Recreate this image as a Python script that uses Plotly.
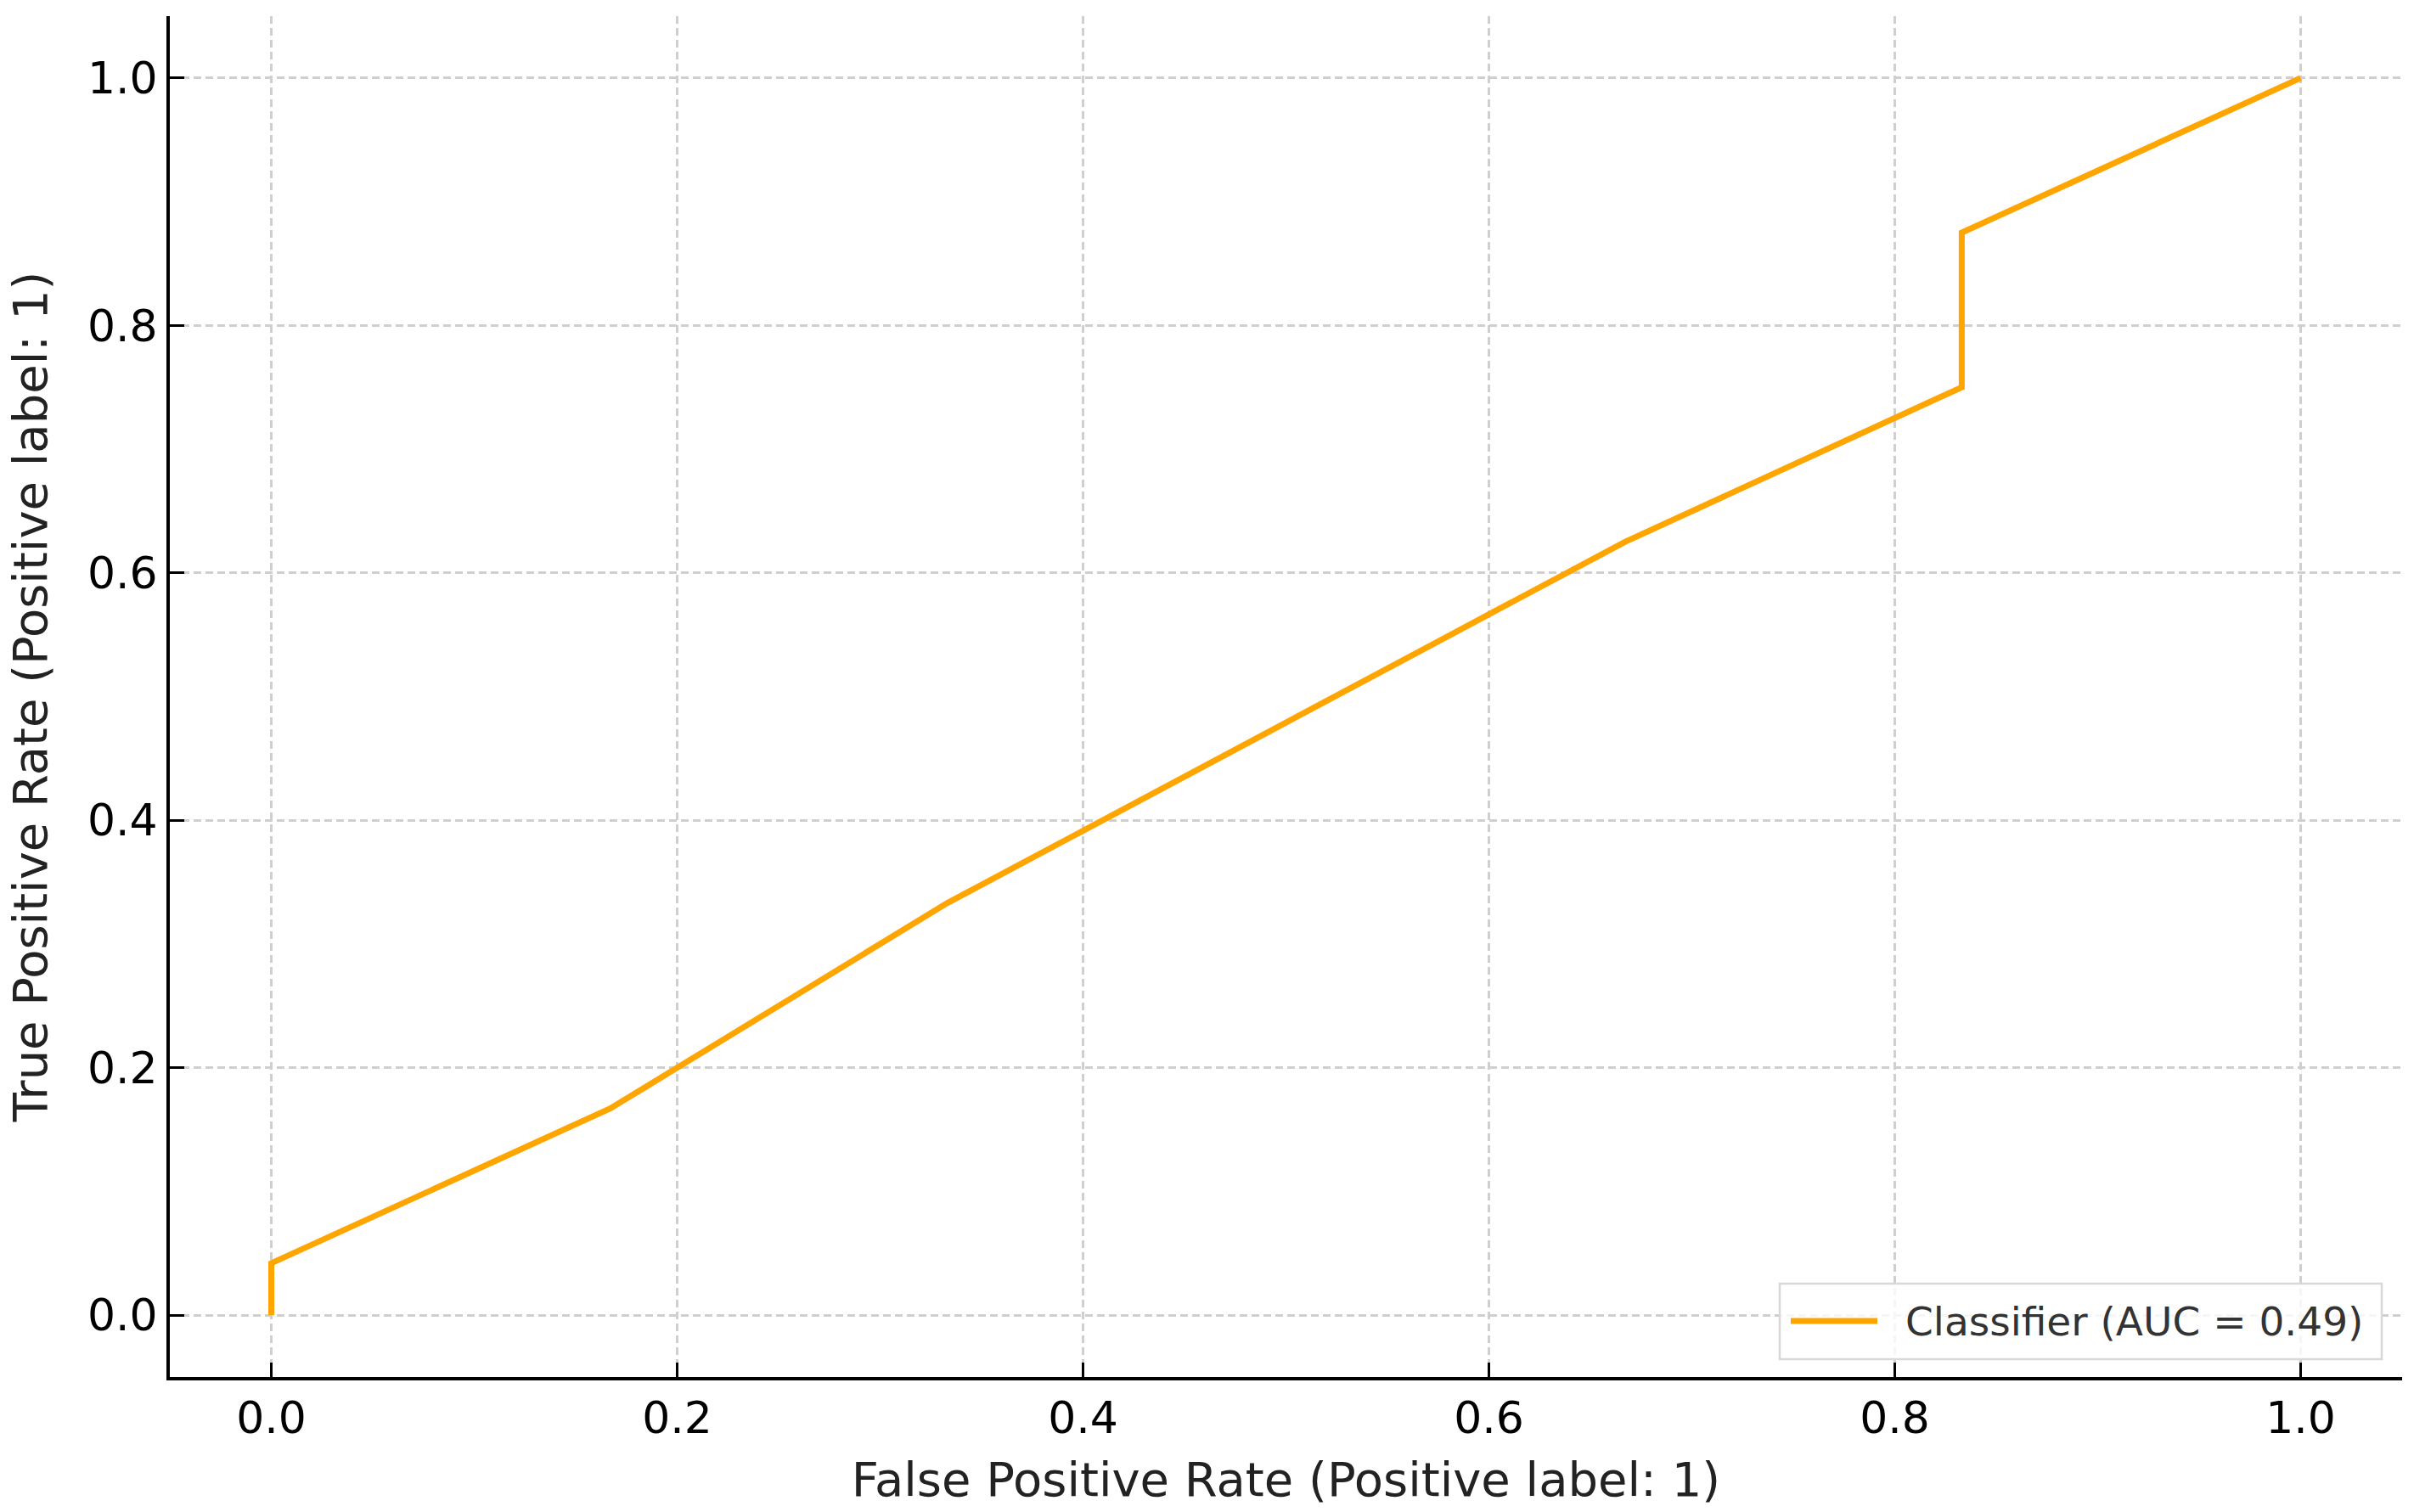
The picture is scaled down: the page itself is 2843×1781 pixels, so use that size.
import numpy as np
import plotly.graph_objects as go

# ROC curve points
fpr = [0.0, 0.0, 0.167, 0.333, 0.667, 0.833, 0.833, 1.0]
tpr = [0.0, 0.042, 0.167, 0.333, 0.625, 0.75, 0.875, 1.0]
tick_vals = [0.0, 0.2, 0.4, 0.6, 0.8, 1.0]
tick_text = ["0.0", "0.2", "0.4", "0.6", "0.8", "1.0"]

auc = np.trapezoid(tpr, fpr)
label = f"Classifier (AUC = {auc:.2f})"

W, H = 2843, 1781
ML, MR, MT, MB = 200, 14, 19, 159
PW, PH = W - ML - MR, H - MT - MB
FONT = "DejaVu Sans"
ORANGE = "#FFA500"


def px_x(x):
    return (x - ML) / PW


def px_y(y):
    return (H - MB - y) / PH


fig = go.Figure()
fig.add_trace(
    go.Scatter(
        x=fpr,
        y=tpr,
        mode="lines",
        line=dict(color=ORANGE, width=7),
        name=label,
        showlegend=False,
    )
)

axis_style = dict(
    range=[-0.05, 1.05],
    tickvals=tick_vals,
    ticktext=tick_text,
    showline=True,
    linecolor="black",
    linewidth=4,
    ticks="inside",
    ticklen=17,
    tickwidth=3,
    tickcolor="black",
    showgrid=True,
    gridcolor="#cfcfcf",
    gridwidth=2.5,
    griddash="9px,5px",
    zeroline=False,
    tickfont=dict(family=FONT, size=52, color="black"),
)

fig.update_xaxes(
    **axis_style,
    title=dict(
        text="False Positive Rate (Positive label: 1)",
        font=dict(family=FONT, size=56, color="#222222"),
        standoff=24,
    ),
)
fig.update_yaxes(
    **axis_style,
    title=dict(
        text="True Positive Rate (Positive label: 1)",
        font=dict(family=FONT, size=56, color="#222222"),
        standoff=30,
    ),
)

# legend box drawn by hand (lower right, like matplotlib)
fig.add_shape(
    type="rect",
    xref="paper",
    yref="paper",
    x0=px_x(2096),
    x1=px_x(2805),
    y0=px_y(1601),
    y1=px_y(1512),
    line=dict(color="#d8d8d8", width=2.5),
    fillcolor="rgba(255,255,255,0.8)",
    layer="above",
)
fig.add_shape(
    type="line",
    xref="paper",
    yref="paper",
    x0=px_x(2109),
    x1=px_x(2211),
    y0=px_y(1556),
    y1=px_y(1556),
    line=dict(color=ORANGE, width=7),
    layer="above",
)
fig.add_annotation(
    xref="paper",
    yref="paper",
    x=px_x(2242),
    y=px_y(1556),
    text=label,
    showarrow=False,
    xanchor="left",
    yanchor="middle",
    font=dict(family=FONT, size=47, color="#333333"),
)

fig.update_layout(
    width=W,
    height=H,
    margin=dict(l=ML, r=MR, t=MT, b=MB),
    plot_bgcolor="white",
    paper_bgcolor="white",
    font=dict(family=FONT),
)

fig.write_html(
    "out.html",
    config={"displayModeBar": False},
    post_script="document.body.style.margin='0';",
)
